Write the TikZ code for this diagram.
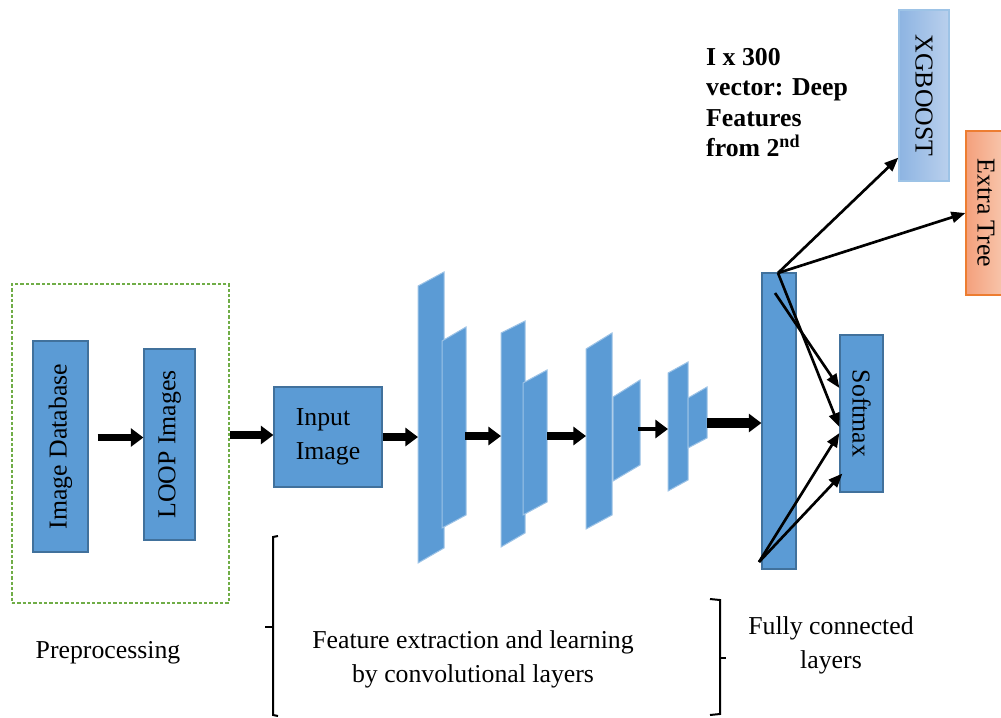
\documentclass[tikz,border=0pt]{standalone}
\usepackage{fontspec}
\setmainfont{Liberation Serif}
\usetikzlibrary{arrows.meta,positioning,calc}
\definecolor{boxblue}{RGB}{91,155,213}
\definecolor{boxline}{RGB}{65,113,156}
\definecolor{layerline}{RGB}{157,195,230}
\definecolor{xgbleft}{RGB}{141,180,226}
\definecolor{xgbright}{RGB}{186,208,237}
\definecolor{treeleft}{RGB}{244,160,124}
\definecolor{treeright}{RGB}{248,200,175}
\definecolor{treeline}{RGB}{237,125,49}
\definecolor{pregreen}{RGB}{112,173,71}

\tikzset{
  bluebox/.style={draw=boxline, fill=boxblue, line width=0.35mm, inner sep=0pt},
  layer/.style={fill=boxblue, draw=layerline, line width=0.3mm},
  fatarrow/.style={line width=2.2mm, -{Triangle[length=3.8mm,width=5.4mm]}},
  thinarrow/.style={line width=0.8mm, -{Triangle[length=4.2mm,width=3.3mm]}},
  bracket/.style={line width=0.6mm},
}

\begin{document}
\begin{tikzpicture}[x=0.3mm, y=-0.3mm, font=\fontsize{22}{29}\selectfont]
        \useasboundingbox (0,0) rectangle (1001,717);

        % preprocessing
        \node[draw=pregreen, dash pattern=on 1mm off 0.6mm, line width=0.35mm, minimum width=65.1mm, minimum height=95.7mm] (pre) at (120.5,443.5) {};
        \node[bluebox, minimum width=16.5mm, minimum height=63.3mm] (db) at (60.5,446.5) {\rotatebox{90}{Image Database}};
        \node[bluebox, minimum width=15.3mm, minimum height=57.3mm] (loop) at (169.5,444.5) {\rotatebox{90}{LOOP Images}};
        \node[bluebox, minimum width=32.4mm, minimum height=30mm, align=left] (input) at (328,437) {Input\\Image};
        \draw[fatarrow] ($(db.east)+(9,-9)$) -- ($(loop.west)+(0,-7)$);
        \draw[fatarrow] ($(pre.east)+(0,-8.5)$) -- ($(input.west)+(0,-2)$);

        % convolution blocks
        \draw[layer] (418,286) -- (444,272) -- (444,548) -- (418,563) -- cycle;
        \draw[layer] (442,341) -- (466,327) -- (466,515) -- (442,528) -- cycle;
        \draw[layer] (501,333) -- (525,321) -- (525,533) -- (501,547) -- cycle;
        \draw[layer] (523,383) -- (547,370) -- (547,502) -- (523,515) -- cycle;
        \draw[layer] (586,349) -- (612,333) -- (612,515) -- (586,529) -- cycle;
        \draw[layer] (613,397) -- (640,380) -- (640,465) -- (613,481) -- cycle;
        \draw[layer] (668,373) -- (688,362) -- (688,480) -- (668,491) -- cycle;
        \draw[layer] (688,398) -- (707,387) -- (707,438) -- (688,448) -- cycle;
        \coordinate (c1in) at (418,437);
        \coordinate (c1out) at (465,436);
        \coordinate (c2in) at (501,436);
        \coordinate (c2out) at (547,436);
        \coordinate (c3in) at (586,436);
        \coordinate (c3out) at (638,429);
        \coordinate (c4in) at (668,429);
        \coordinate (c4out) at (707,423);
        \draw[fatarrow] (input.east) -- (c1in);
        \draw[fatarrow] (c1out) -- (c2in);
        \draw[fatarrow] (c2out) -- (c3in);
        \draw[fatarrow, line width=1.3mm] (c3out) -- (c4in);

        % fully connected + classifiers
        \node[bluebox, minimum width=10.2mm, minimum height=88.8mm] (fc) at (779,421) {};
        \draw[fatarrow, line width=3mm] (c4out) -- (fc.west |- c4out);
        \node[bluebox, minimum width=12.9mm, minimum height=47.1mm] (soft) at (861.5,413.5) {\rotatebox{-90}{Softmax}};
        \node[draw=layerline, left color=xgbleft, right color=xgbright, line width=0.35mm, inner sep=0pt, minimum width=15mm, minimum height=51.3mm] (xgb) at (924,95.5) {\rotatebox{-90}{XGBOOST}};
        \node[draw=treeline, left color=treeleft, right color=treeright, line width=0.35mm, inner sep=0pt, minimum width=12mm, minimum height=49.2mm] (tree) at (986,213) {\rotatebox{-90}{Extra Tree}};
        \coordinate (fctop) at (778,273);
        \coordinate (fcbot) at (759,562);
        \draw[thinarrow] (fctop) -- ($(xgb.south west)+(0,-24)$);
        \draw[thinarrow] (fctop) -- (tree.west);
        \draw[thinarrow] (fctop) -- ($(soft.west)+(0,13.5)$);
        \draw[thinarrow] ($(fctop)+(-3,20)$) -- ($(soft.west)+(0,-25.5)$);
        \draw[thinarrow] (fcbot) -- ($(soft.west)+(0,19.5)$);
        \draw[thinarrow] (fcbot) -- ($(soft.west)+(3,60)$);

        \node[anchor=north west, align=left, inner sep=0pt, font=\bfseries\fontsize{22}{26}\selectfont] (vec) at (706,48) {I x 300\\vector: Deep\\Features\\from 2\textsuperscript{nd}};

        % brackets and labels
        \draw[bracket] (278,536) -- (273,537) -- (273,715) -- (278,716);
        \draw[bracket] (265,627) -- (273,627);
        \draw[bracket] (710,599) -- (720,600) -- (720,714) -- (710,715);
        \draw[bracket] (720,658) -- (726,658);
        \node[anchor=base] (prelabel) at (108,658) {Preprocessing};
        \node[align=center] (convlabel) at (473,659) {Feature extraction and learning\\by convolutional layers};
        \node[align=center] (fclabel) at (831,645) {Fully connected\\layers};

      \end{tikzpicture}
\end{document}
